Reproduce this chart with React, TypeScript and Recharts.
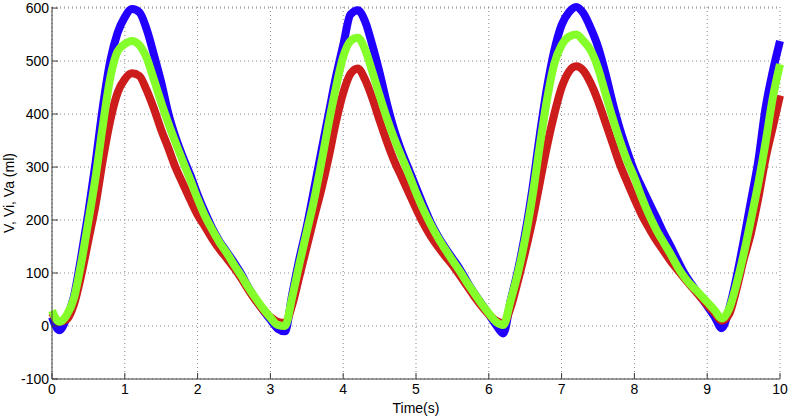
import React from 'react';
import { LineChart, Line, XAxis, YAxis, CartesianGrid } from 'recharts';

// sample times, 0 .. 10 s every 0.1 s
const times = Array.from({ length: 101 }, (_, i) => i / 10);

const xTicks = [0, 1, 2, 3, 4, 5, 6, 7, 8, 9, 10];
const yTicks = [-100, 0, 100, 200, 300, 400, 500, 600];

// V (blue)
const vTotal = [
  17, -8, 15, 55, 130, 215, 310, 415, 500, 553,
  583, 598, 592, 560, 512, 460, 400, 355, 318, 285,
  248, 215, 185, 160, 140, 120, 98, 72, 50, 30,
  12, -5, -10, 60, 128, 188, 258, 330, 400, 470,
  530, 588, 596, 575, 530, 478, 420, 370, 330, 296,
  262, 228, 196, 170, 148, 128, 108, 84, 62, 42,
  22, 2, -14, 48, 105, 175, 260, 360, 450, 520,
  568, 592, 602, 590, 562, 527, 478, 422, 372, 330,
  292, 262, 233, 205, 176, 150, 122, 96, 76, 57,
  38, 18, -4, 32, 90, 160, 235, 310, 410, 480,
  538,
];

// Vi (green)
const vInner = [
  29, 8, 20, 52, 118, 198, 282, 380, 468, 518,
  532, 538, 530, 506, 465, 422, 382, 345, 310, 276,
  240, 208, 182, 158, 138, 116, 95, 72, 52, 33,
  16, 2, 0, 55, 118, 178, 238, 308, 382, 450,
  508, 538, 544, 522, 480, 435, 392, 354, 320, 287,
  252, 220, 192, 167, 145, 124, 104, 82, 62, 42,
  24, 8, 2, 48, 100, 165, 245, 340, 428, 495,
  530, 546, 550, 538, 520, 487, 440, 393, 350, 312,
  280, 243, 210, 182, 158, 135, 110, 90, 74, 60,
  45, 30, 14, 32, 78, 135, 200, 268, 345, 430,
  494,
];

// Va (red)
const vAux = [
  25, 8, 12, 40, 95, 162, 230, 315, 388, 440,
  466, 477, 472, 445, 410, 370, 335, 298, 268, 238,
  210, 188, 165, 145, 128, 110, 90, 68, 48, 30,
  17, 8, 6, 40, 95, 150, 205, 258, 318, 385,
  440, 476, 486, 465, 430, 388, 348, 312, 282, 252,
  222, 194, 170, 150, 132, 115, 96, 76, 56, 38,
  22, 10, 5, 35, 85, 140, 200, 270, 340, 400,
  450, 480, 490, 482, 458, 425, 385, 345, 305, 272,
  240, 210, 185, 162, 142, 122, 105, 88, 72, 56,
  40, 25, 10, 22, 68, 125, 175, 240, 315, 375,
  435,
];

const data = times.map((t, i) => ({ t, v: vTotal[i], vi: vInner[i], va: vAux[i] }));

const axisColor = '#3a3a3a';
const tickStyle = { fill: '#000', fontSize: 14 };

const App: React.FC = () => {
  return (
    <div
      style={{
        position: 'absolute',
        left: 0,
        top: 0,
        width: 790,
        height: 416,
        background: '#fff',
        fontFamily: '"Liberation Sans", Arial, sans-serif',
      }}
    >
      <LineChart width={790} height={416} data={data} margin={{ top: 7, right: 10, bottom: 0, left: 0 }}>
        <CartesianGrid stroke="#8a8a8a" strokeDasharray="1 3" />
        <XAxis
          dataKey="t"
          type="number"
          domain={[0, 10]}
          ticks={xTicks}
          height={37}
          stroke={axisColor}
          tickSize={-6}
          tickMargin={11}
          tick={tickStyle}
          label={{ value: 'Time(s)', position: 'insideBottom', offset: 3, fill: '#000', fontSize: 14 }}
        />
        <XAxis
          xAxisId="top"
          orientation="top"
          dataKey="t"
          type="number"
          domain={[0, 10]}
          ticks={xTicks}
          height={0}
          stroke={axisColor}
          tickSize={-6}
          tick={false}
        />
        <YAxis
          type="number"
          domain={[-100, 600]}
          ticks={yTicks}
          width={52}
          stroke={axisColor}
          tickSize={-6}
          tickMargin={9}
          tick={tickStyle}
          label={{
            value: 'V, Vi, Va (ml)',
            angle: -90,
            position: 'insideLeft',
            offset: 9,
            fill: '#000',
            fontSize: 14,
            style: { textAnchor: 'middle' },
          }}
        />
        <YAxis
          yAxisId="right"
          orientation="right"
          type="number"
          domain={[-100, 600]}
          ticks={yTicks}
          width={0}
          stroke={axisColor}
          tickSize={-6}
          tick={false}
        />
        <Line type="monotone" dataKey="v" stroke="#2200ff" strokeWidth={8} dot={false} isAnimationActive={false} />
        <Line type="monotone" dataKey="va" stroke="#cc1c1c" strokeWidth={8} dot={false} isAnimationActive={false} />
        <Line type="monotone" dataKey="vi" stroke="#84ff2a" strokeWidth={8} dot={false} isAnimationActive={false} />
      </LineChart>
    </div>
  );
};

export default App;
